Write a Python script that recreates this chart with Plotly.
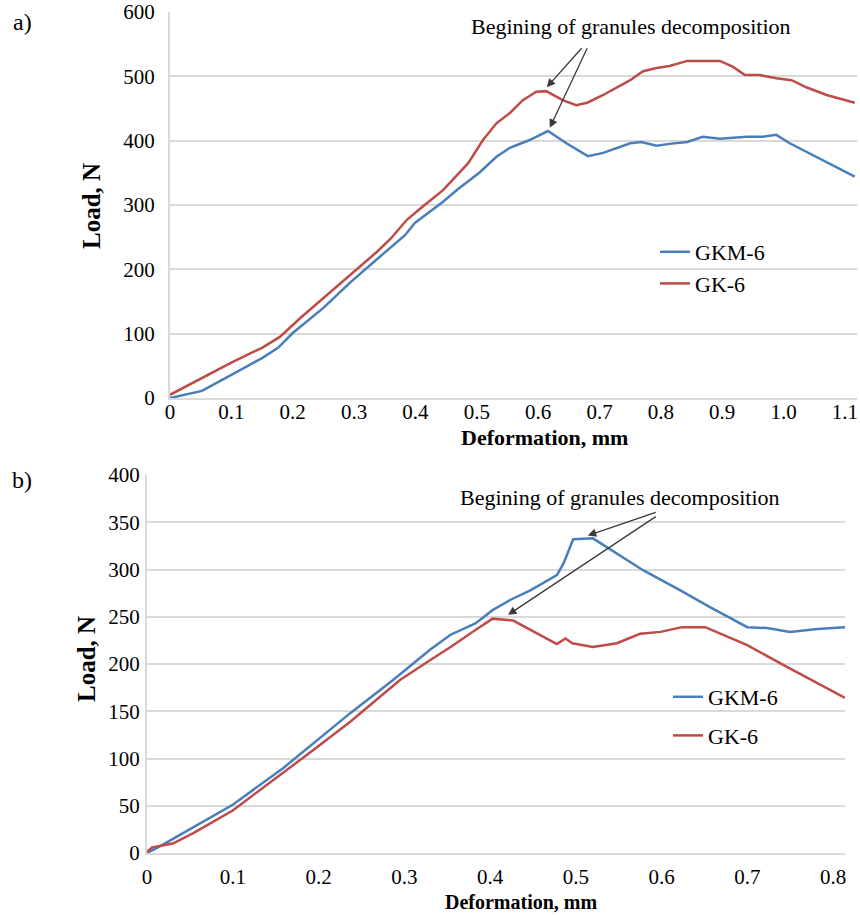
import plotly.graph_objects as go

FONT = "Times New Roman, Liberation Serif, serif"
BLUE = "#4A7EBB"
RED = "#BE4B48"
GRID = "#d9d9d9"

series_names = ["GKM-6", "GK-6"]
annotation_text = "Begining of granules decomposition"
x_title = "Deformation, mm"
y_title = "Load, N"

# ---- chart a) ----
a_gkm_x = [0, 0.052, 0.1, 0.15, 0.176, 0.2, 0.25, 0.293, 0.34, 0.383, 0.399, 0.423, 0.445, 0.467,
           0.505, 0.532, 0.554, 0.586, 0.616, 0.646, 0.681, 0.706, 0.728, 0.75, 0.768, 0.793,
           0.814, 0.843, 0.868, 0.896, 0.94, 0.966, 0.988, 1.01, 1.116]
a_gkm_y = [0, 11, 36, 62, 78, 101, 140, 179, 218, 253, 272, 289, 305, 323,
           351, 375, 389, 401, 415, 396, 376, 381, 389, 396, 398, 392,
           395, 398, 406, 403, 406, 406, 409, 396, 344]
a_gk_x = [0, 0.05, 0.1, 0.15, 0.179, 0.212, 0.25, 0.298, 0.337, 0.36, 0.386, 0.41, 0.423, 0.445,
          0.486, 0.51, 0.532, 0.554, 0.575, 0.597, 0.613, 0.64, 0.662, 0.68, 0.706, 0.728,
          0.75, 0.771, 0.793, 0.814, 0.843, 0.896, 0.917, 0.937, 0.961, 0.988, 1.013, 1.037,
          1.07, 1.116]
a_gk_y = [5, 30, 55, 78, 95, 124, 155, 194, 227, 248, 277, 296, 306, 323,
          365, 401, 427, 443, 463, 476, 477, 463, 455, 459, 471, 483,
          494, 508, 513, 516, 524, 524, 515, 502, 502, 497, 494, 483,
          471, 459]
a_x_ticks = [0, 0.1, 0.2, 0.3, 0.4, 0.5, 0.6, 0.7, 0.8, 0.9, 1.0, 1.1]
a_x_ticklabels = ["0", "0.1", "0.2", "0.3", "0.4", "0.5", "0.6", "0.7", "0.8", "0.9", "1.0", "1.1"]
a_y_ticks = [0, 100, 200, 300, 400, 500, 600]
a_arrow_tail = [(0.673, 546), (0.681, 546)]
a_arrow_head = [(0.614, 483), (0.619, 420)]
a_text_pos = (0.751, 577)

# ---- chart b) ----
b_gkm_x = [0, 0.015, 0.042, 0.1, 0.159, 0.194, 0.237, 0.287, 0.33, 0.354, 0.383, 0.403, 0.424,
           0.447, 0.478, 0.486, 0.497, 0.52, 0.548, 0.579, 0.622, 0.657, 0.70, 0.723, 0.75,
           0.782, 0.814]
b_gkm_y = [0, 7, 21, 51, 90, 116, 148, 183, 215, 231, 243, 257, 268,
           278, 294, 307, 332, 333, 317, 299, 278, 260, 239, 238, 234,
           237, 239]
b_gk_x = [0, 0.006, 0.03, 0.054, 0.1, 0.159, 0.194, 0.237, 0.295, 0.33, 0.354, 0.383, 0.403,
          0.427, 0.455, 0.478, 0.488, 0.496, 0.52, 0.548, 0.575, 0.599, 0.624, 0.651, 0.70,
          0.742, 0.814]
b_gk_y = [1, 6, 10, 21, 45, 85, 109, 139, 183, 204, 218, 236, 248,
          246, 232, 221, 227, 222, 218, 222, 232, 234, 239, 239, 220,
          199, 164]
b_x_ticks = [0, 0.1, 0.2, 0.3, 0.4, 0.5, 0.6, 0.7, 0.8]
b_x_ticklabels = ["0", "0.1", "0.2", "0.3", "0.4", "0.5", "0.6", "0.7", "0.8"]
b_y_ticks = [0, 50, 100, 150, 200, 250, 300, 350, 400]
b_arrow_tail = [(0.595, 361), (0.595, 357)]
b_arrow_head = [(0.514, 336), (0.421, 252)]
b_text_pos = (0.552, 376)

W, H = 860, 915


def px_x(p):
    return p / W


def px_y(p):
    return 1 - p / H


fig = go.Figure()
fig.add_trace(go.Scatter(x=a_gkm_x, y=a_gkm_y, mode="lines", name=series_names[0],
                         line=dict(color=BLUE, width=2.5), xaxis="x", yaxis="y", legend="legend"))
fig.add_trace(go.Scatter(x=a_gk_x, y=a_gk_y, mode="lines", name=series_names[1],
                         line=dict(color=RED, width=2.5), xaxis="x", yaxis="y", legend="legend"))
fig.add_trace(go.Scatter(x=b_gkm_x, y=b_gkm_y, mode="lines", name=series_names[0],
                         line=dict(color=BLUE, width=2.5), xaxis="x2", yaxis="y2",
                         legend="legend2", legendgroup="b1"))
fig.add_trace(go.Scatter(x=b_gk_x, y=b_gk_y, mode="lines", name=series_names[1],
                         line=dict(color=RED, width=2.5), xaxis="x2", yaxis="y2",
                         legend="legend2", legendgroup="b2"))


def tf():
    return dict(family=FONT, size=21, color="black")


def xax(**kw):
    d = dict(showgrid=False, zeroline=False, showline=True, linecolor=GRID, linewidth=2,
             ticks="outside", tickcolor="rgba(0,0,0,0)", tickfont=tf(), fixedrange=True,
             automargin=False)
    d.update(kw)
    return d


def yax(**kw):
    d = dict(showgrid=True, gridcolor=GRID, gridwidth=2, zeroline=False, showline=True,
             linecolor=GRID, linewidth=2, ticks="outside", tickcolor="rgba(0,0,0,0)",
             tickfont=tf(), fixedrange=True, automargin=False)
    d.update(kw)
    return d


fig.update_layout(
    width=W, height=H,
    margin=dict(l=0, r=0, t=0, b=0, autoexpand=False),
    paper_bgcolor="white", plot_bgcolor="white",
    font=dict(family=FONT, color="black"),
    xaxis=xax(domain=[px_x(170), px_x(857)], range=[0, 687 / 613.6],
              tickvals=a_x_ticks, ticktext=a_x_ticklabels, ticklen=0,
              ticklabelstandoff=-6, anchor="y"),
    yaxis=yax(domain=[px_y(398), px_y(12)], range=[0, 600],
              tickvals=a_y_ticks, ticklen=9, anchor="x"),
    xaxis2=xax(domain=[px_x(147), px_x(845)], range=[0, 698 / 857.5],
               tickvals=b_x_ticks, ticktext=b_x_ticklabels, ticklen=4, anchor="y2"),
    yaxis2=yax(domain=[px_y(853), px_y(475)], range=[0, 400],
               tickvals=b_y_ticks, ticklen=1, anchor="x2"),
    legend=dict(x=px_x(655), y=px_y(231), xanchor="left", yanchor="top",
                font=dict(family=FONT, size=22, color="black"), bgcolor="rgba(0,0,0,0)",
                tracegroupgap=0),
    legend2=dict(x=px_x(668), y=px_y(676), xanchor="left", yanchor="top",
                 font=dict(family=FONT, size=22, color="black"), bgcolor="rgba(0,0,0,0)",
                 tracegroupgap=7),
    showlegend=True,
)

annotations = []
# panel labels
for (lab, cx, cy) in [("a)", 22, 22), ("b)", 22, 480)]:
    annotations.append(dict(text=lab, x=px_x(cx), y=px_y(cy), xref="paper", yref="paper",
                            xanchor="center", yanchor="middle", showarrow=False,
                            font=dict(family=FONT, size=24)))
# axis titles
for (cx, cy) in [(92, 206), (86, 659)]:
    annotations.append(dict(text="<b>" + y_title + "</b>", x=px_x(cx), y=px_y(cy),
                            xref="paper", yref="paper", xanchor="center", yanchor="middle",
                            showarrow=False, textangle=-90,
                            font=dict(family=FONT, size=25)))
for (cx, cy, fs) in [(544, 437, 22), (521, 902, 20)]:
    annotations.append(dict(text="<b>" + x_title + "</b>", x=px_x(cx), y=px_y(cy),
                            xref="paper", yref="paper", xanchor="center", yanchor="middle",
                            showarrow=False, font=dict(family=FONT, size=fs)))
# decomposition annotations
for (xr, yr, pos, tails, heads) in [("x", "y", a_text_pos, a_arrow_tail, a_arrow_head),
                                    ("x2", "y2", b_text_pos, b_arrow_tail, b_arrow_head)]:
    annotations.append(dict(text=annotation_text, x=pos[0], y=pos[1], xref=xr, yref=yr,
                            xanchor="center", yanchor="middle",
                            showarrow=False, font=dict(family=FONT, size=22)))
    for t, h in zip(tails, heads):
        annotations.append(dict(text="", x=h[0], y=h[1], ax=t[0], ay=t[1], xref=xr, yref=yr,
                                axref=xr, ayref=yr, showarrow=True, arrowhead=2,
                                arrowsize=1.3, arrowwidth=1.3, arrowcolor="#3a3a3a"))
fig.update_layout(annotations=annotations)

fig.write_html("out.html", config={"displayModeBar": False},
               post_script="document.body.style.margin='0';document.body.style.overflow='hidden';")
